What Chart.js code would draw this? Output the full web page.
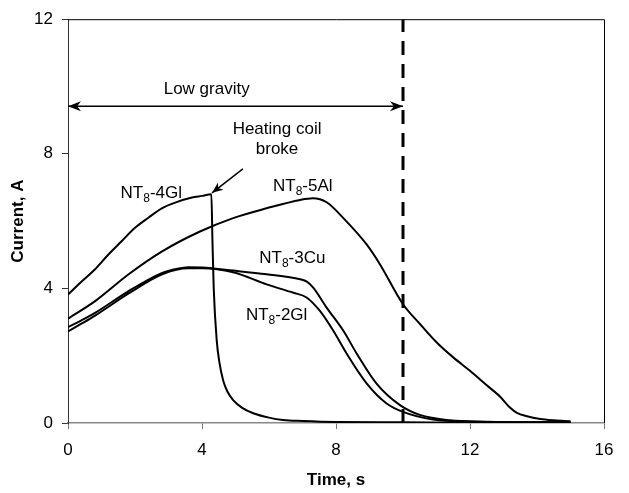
<!DOCTYPE html>
<html>
<head>
<meta charset="utf-8">
<script src="https://cdn.jsdelivr.net/npm/chart.js@4.4.0/dist/chart.umd.min.js"></script>
<style>
  html, body { margin: 0; padding: 0; background: #fff; }
</style>
</head>
<body>
<canvas id="chart" width="629" height="493"></canvas>
<script>
// Current vs time for the four samples
const time4Gl = [0, 0.4, 0.8, 1.2, 1.6, 2.0, 2.4, 2.8, 3.2, 3.7, 4.0, 4.28, 4.31, 4.35, 4.44, 4.52, 4.63, 4.75, 4.93, 5.2, 5.53, 6.0, 6.42, 7.0, 8.0, 10.0, 12.0, 15.0];
const current4Gl = [3.82, 4.2, 4.56, 5.0, 5.4, 5.8, 6.1, 6.38, 6.55, 6.7, 6.75, 6.8, 5.5, 4.0, 2.45, 1.8, 1.27, 0.95, 0.68, 0.45, 0.29, 0.16, 0.09, 0.06, 0.03, 0.02, 0.01, 0.01];

const time5Al = [0, 0.82, 1.81, 2.81, 3.94, 4.93, 5.93, 6.93, 7.31, 7.72, 8.22, 8.92, 9.31, 10.0, 10.5, 11.0, 11.5, 12.0, 12.5, 12.9, 13.2, 13.4, 13.7, 14.1, 14.5, 15.0];
const current5Al = [3.1, 3.63, 4.42, 5.1, 5.69, 6.09, 6.38, 6.63, 6.68, 6.56, 6.09, 5.3, 4.72, 3.53, 2.95, 2.4, 1.95, 1.55, 1.12, 0.78, 0.45, 0.3, 0.2, 0.12, 0.08, 0.05];

const time3Cu = [0, 0.4, 0.82, 1.81, 2.81, 3.1, 3.6, 4.0, 4.93, 5.93, 6.93, 7.13, 7.32, 7.72, 8.22, 8.62, 9.21, 9.91, 10.5, 11.4, 12.5, 15.0];
const current3Cu = [2.85, 3.05, 3.28, 3.92, 4.46, 4.55, 4.63, 4.62, 4.53, 4.42, 4.27, 4.2, 4.02, 3.43, 2.74, 2.06, 1.17, 0.53, 0.24, 0.08, 0.04, 0.02];

const time2Gl = [0, 0.4, 0.82, 1.81, 2.81, 3.6, 4.0, 4.93, 5.93, 6.73, 7.12, 7.52, 7.92, 8.32, 8.92, 9.51, 10.0, 10.9, 12.0, 15.0];
const current2Gl = [2.72, 2.95, 3.2, 3.85, 4.42, 4.6, 4.6, 4.48, 4.12, 3.87, 3.73, 3.33, 2.74, 2.06, 1.17, 0.58, 0.33, 0.1, 0.04, 0.02];

// Axis ticks
const timeTicks = [0, 4, 8, 12, 16];
const currentTicks = [0, 4, 8, 12];

// Annotations (data units)
const lowGravityEnd = 10;
const lowGravityLevel = 9.41;
const lowGravityText = ['Low gravity', 4.14, 9.92];
const heatingText = [['Heating coil', 6.24, 8.73], ['broke', 6.24, 8.14]];
const heatingArrow = [[5.22, 7.55], [4.30, 6.84]];
const seriesNames = ['-4Gl', '-5Al', '-3Cu', '-2Gl'];
const nameSpots = [[1.57, 6.68], [6.12, 6.90], [5.71, 4.76], [5.31, 3.07]];

const FONT = '"Liberation Sans", Arial, Helvetica, sans-serif';

function pts(t, a) {
    return t.map((x, i) => ({ x: x, y: a[i] }));
}

function curve(t, a) {
    return {
        data: pts(t, a),
        borderColor: '#000',
        borderWidth: 2,
        pointRadius: 0,
        cubicInterpolationMode: 'monotone',
        fill: false
    };
}

// stealth-style arrowhead with its tip at (x, y) pointing along angle
function arrowHead(ctx, x, y, angle, len, half) {
    ctx.save();
    ctx.translate(x, y);
    ctx.rotate(angle);
    ctx.beginPath();
    ctx.moveTo(0, 0);
    ctx.lineTo(-len, -half);
    ctx.lineTo(-len * 0.7, 0);
    ctx.lineTo(-len, half);
    ctx.closePath();
    ctx.fillStyle = '#000';
    ctx.fill();
    ctx.restore();
}

const annotations = {
    id: 'annotations',
    afterDatasetsDraw(chart) {
        const { ctx, chartArea, scales: { x, y } } = chart;
        ctx.save();

        // frame top and right
        ctx.strokeStyle = '#000';
        ctx.lineWidth = 1;
        ctx.beginPath();
        ctx.moveTo(chartArea.left, chartArea.top + 0.5);
        ctx.lineTo(chartArea.right + 0.5, chartArea.top + 0.5);
        ctx.lineTo(chartArea.right + 0.5, chartArea.bottom);
        ctx.stroke();

        // low gravity arrowheads
        const ay = y.getPixelForValue(lowGravityLevel);
        arrowHead(ctx, x.getPixelForValue(0), ay, Math.PI, 13, 5);
        arrowHead(ctx, x.getPixelForValue(lowGravityEnd), ay, 0, 13, 5);

        // heating coil arrow
        const x0 = x.getPixelForValue(heatingArrow[0][0]), y0 = y.getPixelForValue(heatingArrow[0][1]);
        const x1 = x.getPixelForValue(heatingArrow[1][0]), y1 = y.getPixelForValue(heatingArrow[1][1]);
        ctx.lineWidth = 1.5;
        ctx.beginPath();
        ctx.moveTo(x0, y0);
        ctx.lineTo(x1, y1);
        ctx.stroke();
        arrowHead(ctx, x1, y1, Math.atan2(y1 - y0, x1 - x0), 11, 4.5);

        // texts
        ctx.fillStyle = '#000';
        ctx.font = '17px ' + FONT;
        ctx.textAlign = 'center';
        ctx.textBaseline = 'middle';
        ctx.fillText(lowGravityText[0], x.getPixelForValue(lowGravityText[1]), y.getPixelForValue(lowGravityText[2]));
        heatingText.forEach(h => {
            ctx.fillText(h[0], x.getPixelForValue(h[1]), y.getPixelForValue(h[2]));
        });

        // NT8-xx labels with subscript
        ctx.textAlign = 'left';
        ctx.textBaseline = 'alphabetic';
        seriesNames.forEach((name, i) => {
            let px = x.getPixelForValue(nameSpots[i][0]);
            const py = y.getPixelForValue(nameSpots[i][1]);
            ctx.font = '17px ' + FONT;
            ctx.fillText('NT', px, py);
            px += ctx.measureText('NT').width;
            ctx.font = '12px ' + FONT;
            ctx.fillText('8', px, py + 4);
            px += ctx.measureText('8').width;
            ctx.font = '17px ' + FONT;
            ctx.fillText(name, px, py);
        });
        ctx.restore();
    }
};

const tickFont = { family: FONT, size: 17 };
const titleFont = { family: FONT, size: 17, weight: 'bold' };

new Chart(document.getElementById('chart'), {
    type: 'line',
    data: {
        datasets: [
            {
                data: [{ x: lowGravityEnd, y: 0 }, { x: lowGravityEnd, y: 12 }],
                borderColor: '#000', borderWidth: 3, borderDash: [14, 9],
                pointRadius: 0, fill: false
            },
            {
                data: [{ x: 0, y: lowGravityLevel }, { x: lowGravityEnd, y: lowGravityLevel }],
                borderColor: '#000', borderWidth: 1.5,
                pointRadius: 0, fill: false
            },
            curve(time4Gl, current4Gl),
            curve(time5Al, current5Al),
            curve(time3Cu, current3Cu),
            curve(time2Gl, current2Gl)
        ]
    },
    options: {
        responsive: false,
        animation: false,
        devicePixelRatio: 1,
        layout: { padding: { top: 16, right: 25, bottom: 0, left: 0 } },
        plugins: {
            legend: { display: false },
            tooltip: { enabled: false }
        },
        scales: {
            x: {
                type: 'linear',
                min: 0, max: 16,
                afterBuildTicks: s => { s.ticks = timeTicks.map(v => ({ value: v })); },
                afterFit: s => { s.height = 70; },
                ticks: { font: tickFont, color: '#000', padding: 11, maxRotation: 0 },
                grid: { display: true, drawOnChartArea: false, drawTicks: true, tickLength: 6, color: '#777', lineWidth: 1 },
                border: { display: true, color: '#888', width: 1.5 },
                title: { display: true, text: 'Time, s', font: titleFont, color: '#000', padding: { top: 0, bottom: 2 } }
            },
            y: {
                min: 0, max: 12,
                afterBuildTicks: s => { s.ticks = currentTicks.map(v => ({ value: v })); },
                afterFit: s => { s.width = 68; },
                ticks: { font: tickFont, color: '#000', padding: 9 },
                grid: { display: true, drawOnChartArea: false, drawTicks: true, tickLength: 6, color: '#333', lineWidth: 1 },
                border: { display: true, color: '#333', width: 1 },
                title: { display: true, text: 'Current, A', font: titleFont, color: '#000', padding: { top: 8, bottom: 0 } }
            }
        }
    },
    plugins: [annotations]
});
</script>
</body>
</html>
